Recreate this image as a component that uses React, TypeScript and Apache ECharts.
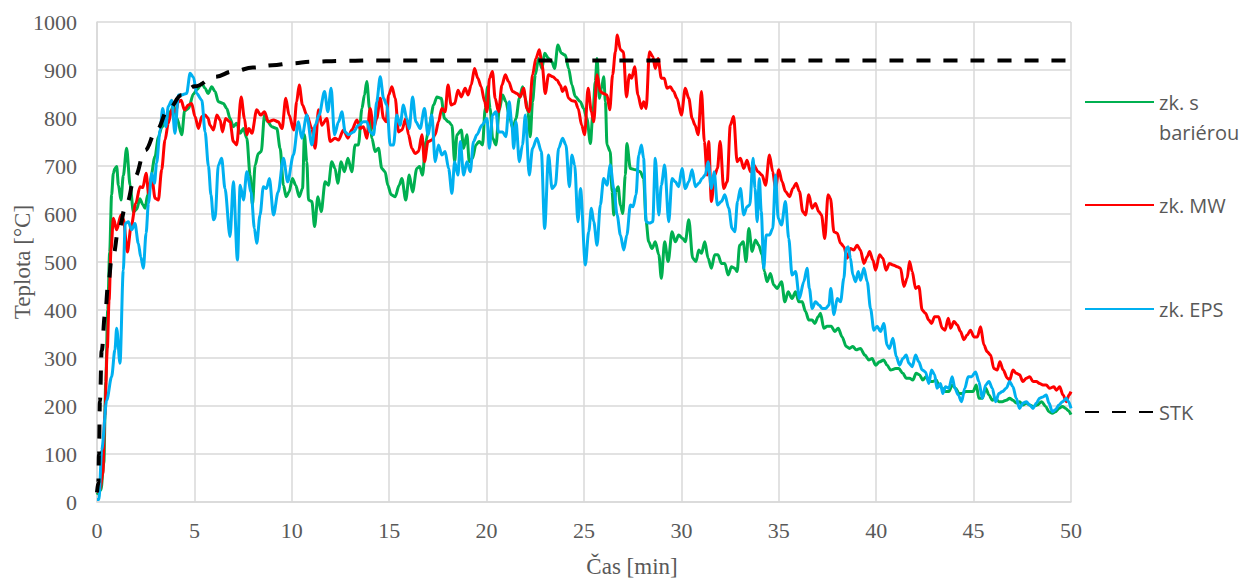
import React, { useEffect, useRef } from "react";
import * as echarts from "echarts";

// time [min], temperature [°C]
const greenData: number[][] = [[0,15],[0.2,25],[0.35,80],[0.45,250],[0.55,400],[0.65,520],[0.75,640],[0.84,685],[0.92,695],[1.01,699],[1.1,660],[1.23,629],[1.35,680],[1.52,737],[1.7,660],[1.87,604],[2.04,610],[2.2,632],[2.35,620],[2.47,612],[2.6,640],[2.72,667],[2.98,720],[3.15,760],[3.32,780],[3.58,800],[3.8,815],[3.92,827],[4.1,800],[4.35,765],[4.5,815],[4.7,820],[4.95,850],[5.15,860],[5.38,872],[5.55,862],[5.7,851],[5.89,865],[6.06,855],[6.23,834],[6.49,830],[6.66,820],[6.83,799],[7.0,782],[7.17,789],[7.35,768],[7.52,778],[7.69,758],[7.86,681],[7.98,619],[8.12,702],[8.28,726],[8.43,730],[8.6,806],[8.77,792],[8.97,782],[9.23,778],[9.4,737],[9.57,660],[9.71,636],[9.86,646],[10.03,674],[10.2,660],[10.38,636],[10.55,653],[10.65,765],[10.77,709],[10.86,629],[11.03,626],[11.17,574],[11.34,636],[11.51,605],[11.71,667],[11.88,660],[12.05,709],[12.22,695],[12.36,664],[12.53,709],[12.7,688],[12.88,716],[13.08,688],[13.25,744],[13.42,744],[13.6,820],[13.73,848],[13.85,876],[13.99,820],[14.11,758],[14.28,730],[14.45,737],[14.62,695],[14.79,688],[14.93,660],[15.1,640],[15.31,636],[15.51,660],[15.65,674],[15.85,629],[16.03,681],[16.2,646],[16.42,695],[16.56,699],[16.71,681],[16.88,751],[17.06,785],[17.28,827],[17.45,844],[17.67,841],[17.84,799],[18.05,792],[18.22,785],[18.36,709],[18.48,765],[18.7,775],[18.82,737],[18.99,765],[19.11,709],[19.28,716],[19.45,744],[19.62,751],[19.79,744],[19.93,820],[20.05,865],[20.18,820],[20.31,758],[20.48,744],[20.65,817],[20.82,848],[20.99,834],[21.16,806],[21.34,778],[21.51,799],[21.68,841],[21.85,865],[21.99,841],[22.12,813],[22.24,761],[22.36,834],[22.5,890],[22.67,924],[22.84,903],[22.98,935],[23.18,924],[23.35,917],[23.49,903],[23.66,952],[23.84,935],[24.04,931],[24.21,903],[24.38,869],[24.55,845],[24.81,834],[24.98,820],[25.15,799],[25.33,747],[25.45,806],[25.58,876],[25.67,924],[25.79,841],[25.9,862],[26.01,886],[26.1,834],[26.18,744],[26.35,730],[26.44,647],[26.53,598],[26.63,647],[26.75,657],[26.87,619],[26.99,601],[27.12,681],[27.2,747],[27.38,695],[27.64,692],[27.89,688],[28.06,674],[28.19,584],[28.32,542],[28.49,528],[28.66,542],[28.84,515],[28.97,466],[29.14,542],[29.32,501],[29.52,563],[29.69,542],[29.86,556],[30.07,549],[30.2,542],[30.38,588],[30.58,508],[30.75,501],[30.89,525],[31.03,518],[31.2,542],[31.37,508],[31.54,487],[31.71,515],[31.88,515],[32.05,497],[32.23,497],[32.4,473],[32.57,490],[32.74,487],[32.86,480],[32.99,535],[33.17,542],[33.32,501],[33.46,570],[33.63,522],[33.8,546],[33.97,535],[34.14,515],[34.26,480],[34.4,459],[34.57,476],[34.74,452],[34.91,445],[35.14,459],[35.31,417],[35.48,438],[35.68,424],[35.86,438],[36.03,417],[36.2,417],[36.37,397],[36.54,379],[36.71,379],[36.85,372],[37.02,386],[37.14,393],[37.31,362],[37.48,366],[37.7,366],[37.87,355],[38.05,362],[38.25,344],[38.46,324],[38.63,320],[38.8,324],[38.97,317],[39.19,320],[39.42,306],[39.62,296],[39.79,299],[39.97,285],[40.17,292],[40.39,296],[40.56,285],[40.74,275],[41.0,278],[41.16,278],[41.37,268],[41.54,258],[41.71,258],[41.88,254],[42.05,268],[42.22,265],[42.39,254],[42.56,261],[42.73,251],[42.9,251],[43.08,254],[43.22,244],[43.39,237],[43.56,230],[43.73,230],[43.9,244],[44.08,237],[44.25,226],[44.42,226],[44.59,230],[44.76,230],[44.97,230],[45.14,244],[45.27,216],[45.45,216],[45.62,237],[45.79,223],[45.96,212],[46.13,216],[46.3,209],[46.47,209],[46.68,212],[46.85,216],[47.02,212],[47.19,206],[47.36,209],[47.53,202],[47.71,206],[47.88,202],[48.05,199],[48.27,202],[48.49,209],[48.7,199],[48.87,188],[49.04,185],[49.2,188],[49.38,195],[49.56,199],[49.73,195],[49.87,190],[50,182]];

const redData: number[][] = [[0,20],[0.15,25],[0.3,60],[0.4,180],[0.53,320],[0.62,420],[0.72,525],[0.84,591],[1.01,567],[1.23,598],[1.35,590],[1.56,521],[1.75,574],[1.99,622],[2.21,657],[2.35,655],[2.52,685],[2.65,643],[2.81,678],[2.98,633],[3.15,629],[3.32,692],[3.49,754],[3.66,789],[3.84,817],[4.04,813],[4.18,834],[4.32,837],[4.49,817],[4.69,827],[4.86,830],[5.03,803],[5.21,778],[5.38,803],[5.55,806],[5.7,800],[5.8,785],[5.98,775],[6.15,806],[6.32,796],[6.44,771],[6.6,799],[6.83,792],[7.0,751],[7.17,744],[7.4,844],[7.57,799],[7.69,765],[7.8,778],[7.95,768],[8.2,817],[8.4,806],[8.6,813],[8.8,792],[9.06,796],[9.3,792],[9.5,778],[9.69,841],[9.86,806],[10.1,775],[10.25,834],[10.38,869],[10.55,827],[10.77,806],[11.03,778],[11.2,737],[11.37,817],[11.54,785],[11.8,799],[11.97,751],[12.22,758],[12.4,754],[12.65,775],[12.88,758],[13.08,775],[13.34,796],[13.51,778],[13.68,782],[13.85,758],[14.02,820],[14.2,778],[14.36,799],[14.54,841],[14.71,799],[14.84,792],[14.97,848],[15.14,865],[15.31,841],[15.48,771],[15.65,775],[15.85,799],[15.99,765],[16.16,737],[16.33,726],[16.5,730],[16.68,765],[16.81,709],[16.99,751],[17.19,754],[17.36,765],[17.53,792],[17.7,820],[17.87,813],[18.02,869],[18.18,827],[18.36,830],[18.53,858],[18.7,844],[18.9,862],[19.05,848],[19.21,869],[19.38,903],[19.55,883],[19.72,865],[19.9,834],[20.02,813],[20.15,883],[20.3,897],[20.44,841],[20.61,813],[20.79,869],[20.96,890],[21.13,876],[21.34,855],[21.56,851],[21.73,844],[21.9,862],[22.07,820],[22.19,813],[22.36,890],[22.53,924],[22.71,942],[22.85,910],[23.01,851],[23.18,890],[23.4,886],[23.61,879],[23.78,869],[23.9,855],[24.04,865],[24.21,841],[24.38,836],[24.55,835],[24.7,820],[24.88,785],[25.03,765],[25.21,862],[25.38,813],[25.5,792],[25.67,890],[25.84,855],[26.0,851],[26.18,848],[26.32,817],[26.47,890],[26.61,938],[26.71,973],[26.87,942],[27.02,938],[27.18,844],[27.33,890],[27.45,883],[27.6,907],[27.77,848],[27.95,820],[28.06,834],[28.19,820],[28.36,938],[28.53,928],[28.66,903],[28.8,924],[28.97,883],[29.12,883],[29.26,862],[29.43,865],[29.6,855],[29.77,841],[30.0,806],[30.2,862],[30.38,841],[30.55,799],[30.7,785],[30.86,765],[31.03,855],[31.18,751],[31.32,681],[31.4,751],[31.54,626],[31.71,681],[31.85,695],[31.99,751],[32.17,653],[32.35,667],[32.51,785],[32.68,803],[32.86,709],[33.03,716],[33.2,695],[33.37,712],[33.54,688],[33.71,702],[33.94,688],[34.14,681],[34.32,660],[34.52,723],[34.69,688],[34.83,653],[35.0,692],[35.17,667],[35.34,647],[35.55,636],[35.72,653],[35.89,664],[36.06,647],[36.23,605],[36.37,598],[36.54,640],[36.71,612],[36.88,622],[37.05,605],[37.19,598],[37.36,549],[37.53,640],[37.65,633],[37.83,563],[38.0,560],[38.17,539],[38.34,532],[38.51,508],[38.68,528],[38.85,525],[39.02,535],[39.19,525],[39.37,497],[39.54,511],[39.66,522],[39.83,504],[39.97,483],[40.17,515],[40.34,508],[40.51,483],[40.68,497],[40.86,494],[41.08,490],[41.25,487],[41.42,449],[41.59,466],[41.71,501],[41.85,480],[42.02,445],[42.19,449],[42.36,400],[42.53,393],[42.7,379],[42.84,372],[43.0,386],[43.2,386],[43.39,362],[43.53,358],[43.7,383],[43.82,362],[43.99,376],[44.16,369],[44.33,355],[44.5,338],[44.67,348],[44.84,358],[45.02,344],[45.19,344],[45.36,365],[45.53,327],[45.7,313],[45.87,306],[46.04,278],[46.21,275],[46.35,292],[46.52,275],[46.73,258],[46.85,254],[47.02,275],[47.19,268],[47.36,265],[47.53,251],[47.71,258],[47.88,261],[48.05,251],[48.22,251],[48.39,247],[48.56,244],[48.73,244],[48.9,237],[49.12,240],[49.25,233],[49.42,240],[49.59,223],[49.76,209],[49.9,223],[50,230]];

const blueData: number[][] = [[0,5],[0.1,5],[0.24,108],[0.5,212],[0.75,261],[0.92,317],[1.01,362],[1.18,289],[1.35,483],[1.45,580],[1.61,584],[1.78,567],[1.95,580],[2.12,539],[2.25,510],[2.38,487],[2.52,560],[2.64,622],[2.81,685],[2.95,664],[3.06,706],[3.24,775],[3.37,820],[3.53,782],[3.66,824],[3.84,837],[4.0,768],[4.18,848],[4.35,848],[4.6,851],[4.78,893],[4.95,885],[5.12,851],[5.38,837],[5.55,771],[5.72,700],[5.85,640],[5.98,588],[6.06,591],[6.23,702],[6.4,716],[6.57,653],[6.83,553],[7.0,667],[7.21,504],[7.35,660],[7.52,629],[7.69,688],[7.91,646],[8.08,570],[8.2,539],[8.37,598],[8.54,657],[8.7,653],[8.85,674],[9.06,598],[9.3,646],[9.57,716],[9.79,667],[10.08,723],[10.34,792],[10.51,758],[10.77,806],[11.03,744],[11.2,785],[11.4,806],[11.68,855],[11.85,813],[12.02,862],[12.19,765],[12.4,792],[12.57,813],[12.74,771],[12.91,765],[13.17,771],[13.42,785],[13.68,792],[13.85,792],[14.02,771],[14.2,765],[14.36,834],[14.54,886],[14.71,841],[14.88,827],[15.05,744],[15.22,744],[15.39,806],[15.56,785],[15.73,827],[15.9,799],[16.03,778],[16.2,844],[16.37,792],[16.59,778],[16.81,820],[16.99,765],[17.19,806],[17.36,709],[17.53,744],[17.7,723],[17.87,730],[18.05,695],[18.22,643],[18.36,709],[18.53,681],[18.65,751],[18.82,681],[18.99,709],[19.16,688],[19.33,751],[19.5,765],[19.76,785],[20.02,799],[20.14,737],[20.31,806],[20.48,813],[20.61,771],[20.82,771],[20.99,761],[21.16,834],[21.3,785],[21.39,737],[21.51,792],[21.68,709],[21.84,744],[21.99,806],[22.19,681],[22.36,737],[22.58,758],[22.81,730],[22.98,570],[23.18,723],[23.36,653],[23.53,660],[23.7,737],[23.9,758],[24.07,744],[24.25,657],[24.38,723],[24.52,702],[24.69,584],[24.82,653],[25.07,494],[25.24,563],[25.38,612],[25.5,584],[25.67,535],[25.84,619],[26.01,674],[26.18,660],[26.35,702],[26.53,653],[26.7,598],[26.87,556],[27.04,525],[27.2,556],[27.38,619],[27.52,615],[27.67,640],[27.81,723],[27.95,744],[28.06,716],[28.19,584],[28.36,581],[28.53,584],[28.66,716],[28.84,598],[28.97,660],[29.14,702],[29.35,584],[29.52,674],[29.69,667],[29.86,657],[30.03,695],[30.2,653],[30.38,667],[30.55,692],[30.72,657],[30.9,664],[31.06,674],[31.22,681],[31.37,709],[31.54,653],[31.68,688],[31.85,619],[32.05,626],[32.23,640],[32.43,612],[32.6,570],[32.74,563],[32.88,626],[33.03,653],[33.2,598],[33.37,615],[33.51,619],[33.68,716],[33.78,653],[33.89,584],[34.0,674],[34.1,605],[34.23,487],[34.35,556],[34.52,556],[34.69,570],[34.83,681],[34.97,591],[35.14,577],[35.34,626],[35.51,549],[35.68,473],[35.86,480],[36.06,424],[36.28,459],[36.45,487],[36.57,445],[36.71,403],[36.88,417],[37.08,410],[37.23,403],[37.4,403],[37.57,410],[37.67,445],[37.83,390],[38.0,424],[38.17,417],[38.34,466],[38.46,528],[38.56,532],[38.68,508],[38.8,473],[38.94,459],[39.08,480],[39.2,462],[39.37,487],[39.54,459],[39.71,403],[39.88,358],[40.05,366],[40.22,355],[40.39,372],[40.56,327],[40.68,320],[40.86,341],[41.03,303],[41.2,285],[41.37,299],[41.54,306],[41.68,289],[41.85,282],[42.02,306],[42.19,292],[42.36,275],[42.53,271],[42.7,247],[42.84,275],[43.0,265],[43.12,237],[43.3,247],[43.42,226],[43.56,240],[43.73,237],[43.9,261],[44.04,237],[44.21,223],[44.38,209],[44.55,237],[44.72,261],[44.9,261],[45.1,271],[45.27,251],[45.45,216],[45.62,244],[45.79,251],[45.96,237],[46.13,209],[46.3,226],[46.47,230],[46.68,237],[46.85,251],[47.02,240],[47.19,216],[47.36,195],[47.53,206],[47.71,209],[47.88,202],[48.05,195],[48.22,206],[48.39,216],[48.56,219],[48.73,223],[48.87,206],[49.04,188],[49.2,192],[49.38,202],[49.56,209],[49.76,216],[49.88,209],[50,195]];

const stkData: number[][] = [[0,20],[0.07,40],[0.1,100],[0.15,210],[0.24,315],[0.41,390],[0.58,455],[0.75,505],[0.84,515],[1.1,567],[1.52,622],[1.95,678],[2.47,733],[3.06,775],[3.66,818],[4.35,848],[5.03,866],[6.06,886],[7,897],[8,905],[9,910],[10,914],[11,917],[12.5,919],[14,920],[50,920]];

const seriesNames = ["zk. s bariérou", "zk. MW", "zk. EPS", "STK"];
const xTicks = { min: 0, max: 50, interval: 5 };
const yTicks = { min: 0, max: 1000, interval: 100 };

const GRAY = "#595959";
const GRID = "#d9d9d9";
const SERIF = "'Liberation Serif', 'Times New Roman', serif";
const SANS = "'Open Sans', 'Noto Sans', sans-serif";

export default function App() {
  const ref = useRef<HTMLDivElement>(null);
  useEffect(() => {
    if (!ref.current) return;
    const chart = echarts.init(ref.current, undefined, { renderer: "svg" });
    const legendBase = {
      orient: "vertical",
      left: 1084,
      padding: 0,
      itemWidth: 69,
      itemHeight: 14,
      itemGap: 5,
      selectedMode: false,
      itemStyle: { opacity: 0, color: "transparent", borderWidth: 0 },
      textStyle: { color: GRAY, fontFamily: SANS, fontSize: 20, lineHeight: 20 },
    };
    const lineSeries = (name: string, data: number[][], color: string) => ({
      name,
      type: "line",
      data,
      symbol: "none",
      smooth: 0.3,
      smoothMonotone: "x",
      lineStyle: { color, width: 3 },
      itemStyle: { color },
    });
    chart.setOption({
      animation: false,
      backgroundColor: "#ffffff",
      grid: { left: 97, right: 174, top: 22, bottom: 76, containLabel: false },
      xAxis: {
        type: "value",
        min: xTicks.min,
        max: xTicks.max,
        interval: xTicks.interval,
        axisLine: { show: true, lineStyle: { color: GRID, width: 1.5 } },
        axisTick: { show: false },
        splitLine: { show: true, lineStyle: { color: GRID, width: 1.5 } },
        axisLabel: {
          color: GRAY,
          fontFamily: SERIF,
          fontSize: 22,
          margin: 17,
          formatter: (v: number) => String(v),
        },
      },
      yAxis: {
        type: "value",
        min: yTicks.min,
        max: yTicks.max,
        interval: yTicks.interval,
        axisLine: { show: true, lineStyle: { color: GRID, width: 1.5 } },
        axisTick: { show: false },
        splitLine: { show: true, lineStyle: { color: GRID, width: 1.5 } },
        axisLabel: {
          color: GRAY,
          fontFamily: SERIF,
          fontSize: 22,
          margin: 20,
          formatter: (v: number) => String(v),
        },
      },
      legend: [
        {
          ...legendBase,
          top: 57,
          data: [seriesNames[0]],
          formatter: () => "\nzk. s\nbariérou",
          textStyle: { color: GRAY, fontFamily: SANS, fontSize: 20, lineHeight: 30 },
        },
        { ...legendBase, top: 195, data: [seriesNames[1]] },
        { ...legendBase, top: 299, data: [seriesNames[2]] },
        { ...legendBase, top: 402, data: [seriesNames[3]] },
      ],
      graphic: [
        {
          type: "text",
          x: 22,
          y: 262,
          rotation: Math.PI / 2,
          style: {
            text: "Teplota [°C]",
            fill: GRAY,
            font: `23px ${SERIF}`,
            align: "center",
            verticalAlign: "middle",
          },
        },
        {
          type: "text",
          x: 632,
          y: 566,
          style: {
            text: "Čas [min]",
            fill: GRAY,
            font: `23px ${SERIF}`,
            align: "center",
            verticalAlign: "middle",
          },
        },
      ],
      series: [
        lineSeries(seriesNames[0], greenData, "#00b050"),
        lineSeries(seriesNames[1], redData, "#ff0000"),
        lineSeries(seriesNames[2], blueData, "#00b0f0"),
        {
          name: seriesNames[3],
          type: "line",
          data: stkData,
          symbol: "none",
          smooth: 0.4,
          smoothMonotone: "x",
          lineStyle: { color: "#000000", width: 4, type: [14, 13] },
          itemStyle: { color: "#000000" },
          z: 5,
        },
      ],
    });
    return () => chart.dispose();
  }, []);
  return (
    <div
      ref={ref}
      style={{ position: "fixed", left: 0, top: 0, width: 1245, height: 578 }}
    />
  );
}
